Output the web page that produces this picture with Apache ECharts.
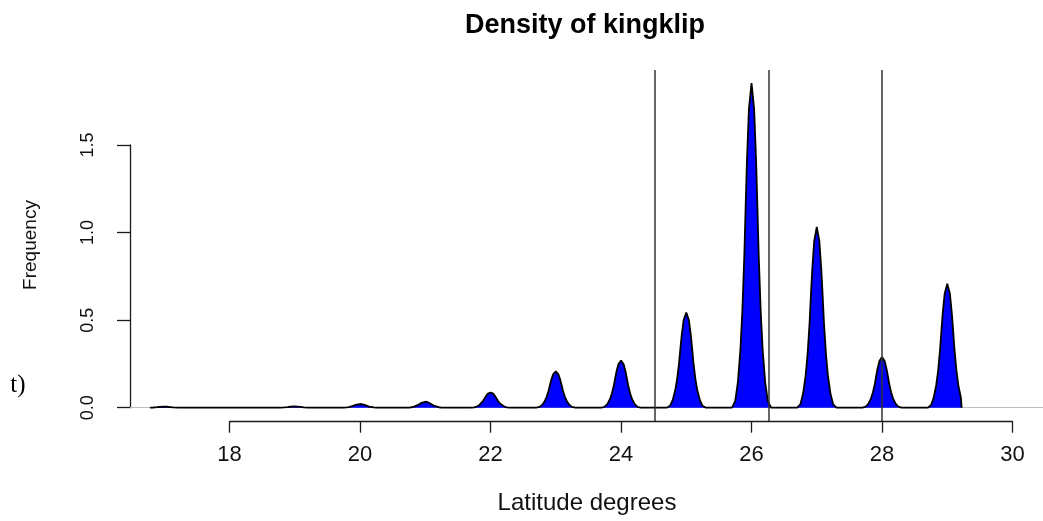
<!DOCTYPE html>
<html>
<head>
<meta charset="utf-8">
<title>Density of kingklip</title>
<script src="https://cdn.jsdelivr.net/npm/echarts@6/dist/echarts.min.js"></script>
<style>
  html, body { margin: 0; padding: 0; background: #fff; }
  #chart { width: 1043px; height: 521px; }
</style>
</head>
<body>
<div id="chart"></div>
<script>
// Latitudes carrying a density peak, and the height of each peak
const peakLatitudes = [17, 18, 19, 20, 21, 22, 23, 24, 25, 26, 27, 28, 29];
const peakHeights   = [0.006, 0, 0.007, 0.021, 0.034, 0.087, 0.207, 0.27, 0.544, 1.854, 1.032, 0.29, 0.708];

// Kernel shape shared by every peak: offset from the peak (degrees) and fraction of its height
const shapeOffsets   = [-0.30, -0.25, -0.21, -0.17, -0.14, -0.11, -0.09, -0.07, -0.04, 0,
                         0.04, 0.07, 0.09, 0.11, 0.14, 0.17, 0.21, 0.25, 0.30];
const shapeFractions = [0, 0.02, 0.077, 0.18, 0.30, 0.47, 0.62, 0.76, 0.92, 1,
                        0.92, 0.76, 0.62, 0.47, 0.30, 0.18, 0.077, 0.02, 0];

// Extent of the estimated density curve
const curveRange = [16.78, 29.22];

// Latitudes marked with vertical reference lines
const markLatitudes = [24.51, 26.27, 28.0];

// Axis ticks
const xTicks = [18, 20, 22, 24, 26, 28, 30];
const yTicks = [0, 0.5, 1.0, 1.5];

// Assemble the density polygon outline from the peaks
const curve = [[curveRange[0], 0]];
peakLatitudes.forEach((lat, i) => {
  shapeOffsets.forEach((off, j) => {
    const x = lat + off;
    if (x > curveRange[0] && x < curveRange[1]) {
      curve.push([x, peakHeights[i] * shapeFractions[j]]);
    }
  });
});
curve.push([curveRange[1], 0]);

const sans = '"Liberation Sans", Arial, Helvetica, sans-serif';
const axisColor = '#1a1a1a';

const chart = echarts.init(document.getElementById('chart'), null, { renderer: 'canvas' });

chart.setOption({
  animation: false,
  backgroundColor: '#ffffff',
  grid: [
    // plotting region
    { left: 130, right: 0, top: 70, bottom: 100 },
    // detached latitude axis
    { left: 229.5, width: 783, top: 420.7, height: 1 },
    // detached frequency axis
    { left: 130, width: 1, top: 145, height: 262.7 }
  ],
  xAxis: [
    {
      gridIndex: 0, type: 'value', min: 16.475, max: 30.467,
      axisLine: { show: true, onZero: true, lineStyle: { color: '#bebebe', width: 1 } },
      axisTick: { show: false }, axisLabel: { show: false }, splitLine: { show: false }
    },
    {
      gridIndex: 1, type: 'value', position: 'bottom',
      min: xTicks[0], max: xTicks[xTicks.length - 1], interval: xTicks[1] - xTicks[0],
      axisLine: { show: true, onZero: false, lineStyle: { color: axisColor, width: 1.3 } },
      axisTick: { show: true, length: 11, lineStyle: { color: axisColor, width: 1.3 } },
      axisLabel: { margin: 22, fontSize: 22, color: '#111', fontFamily: sans },
      splitLine: { show: false }
    },
    {
      gridIndex: 2, type: 'value', min: 0, max: 1, show: false
    }
  ],
  yAxis: [
    {
      gridIndex: 0, type: 'value', min: -0.076, max: 1.9286, show: false,
      splitLine: { show: false }
    },
    {
      gridIndex: 1, type: 'value', min: 0, max: 1, show: false
    },
    {
      gridIndex: 2, type: 'value',
      min: yTicks[0], max: yTicks[yTicks.length - 1], interval: yTicks[1] - yTicks[0],
      axisLine: { show: true, onZero: false, lineStyle: { color: axisColor, width: 1.3 } },
      axisTick: { show: true, length: 13, lineStyle: { color: axisColor, width: 1.3 } },
      axisLabel: {
        rotate: 90, margin: 33, fontSize: 18, color: '#111', fontFamily: sans,
        formatter: v => v.toFixed(1)
      },
      splitLine: { show: false }
    }
  ],
  series: [
    {
      name: 'kingklip',
      type: 'line',
      xAxisIndex: 0,
      yAxisIndex: 0,
      data: curve,
      symbol: 'none',
      smooth: false,
      lineStyle: { color: '#000000', width: 1.8 },
      areaStyle: { color: '#0000ff', opacity: 1 },
      z: 3,
      markLine: {
        silent: true,
        symbol: 'none',
        label: { show: false },
        lineStyle: { color: '#333333', width: 1.5, type: 'solid' },
        data: markLatitudes.map(v => ({ xAxis: v }))
      }
    }
  ],
  graphic: [
    {
      type: 'text', x: 585, y: 26,
      style: {
        text: 'Density of kingklip', align: 'center', verticalAlign: 'middle',
        fontSize: 27, fontWeight: 'bold', fontFamily: sans, fill: '#000'
      }
    },
    {
      type: 'text', x: 587, y: 503,
      style: {
        text: 'Latitude degrees', align: 'center', verticalAlign: 'middle',
        fontSize: 24, fontFamily: sans, fill: '#111'
      }
    },
    {
      type: 'text', x: 31, y: 245, rotation: Math.PI / 2,
      style: {
        text: 'Frequency', align: 'center', verticalAlign: 'middle',
        fontSize: 19, fontFamily: sans, fill: '#111'
      }
    },
    {
      type: 'text', x: 18, y: 385,
      style: {
        text: 't)', align: 'center', verticalAlign: 'middle',
        fontSize: 25, fontFamily: '"Liberation Serif", "Times New Roman", serif', fill: '#000'
      }
    }
  ]
});
</script>
</body>
</html>
